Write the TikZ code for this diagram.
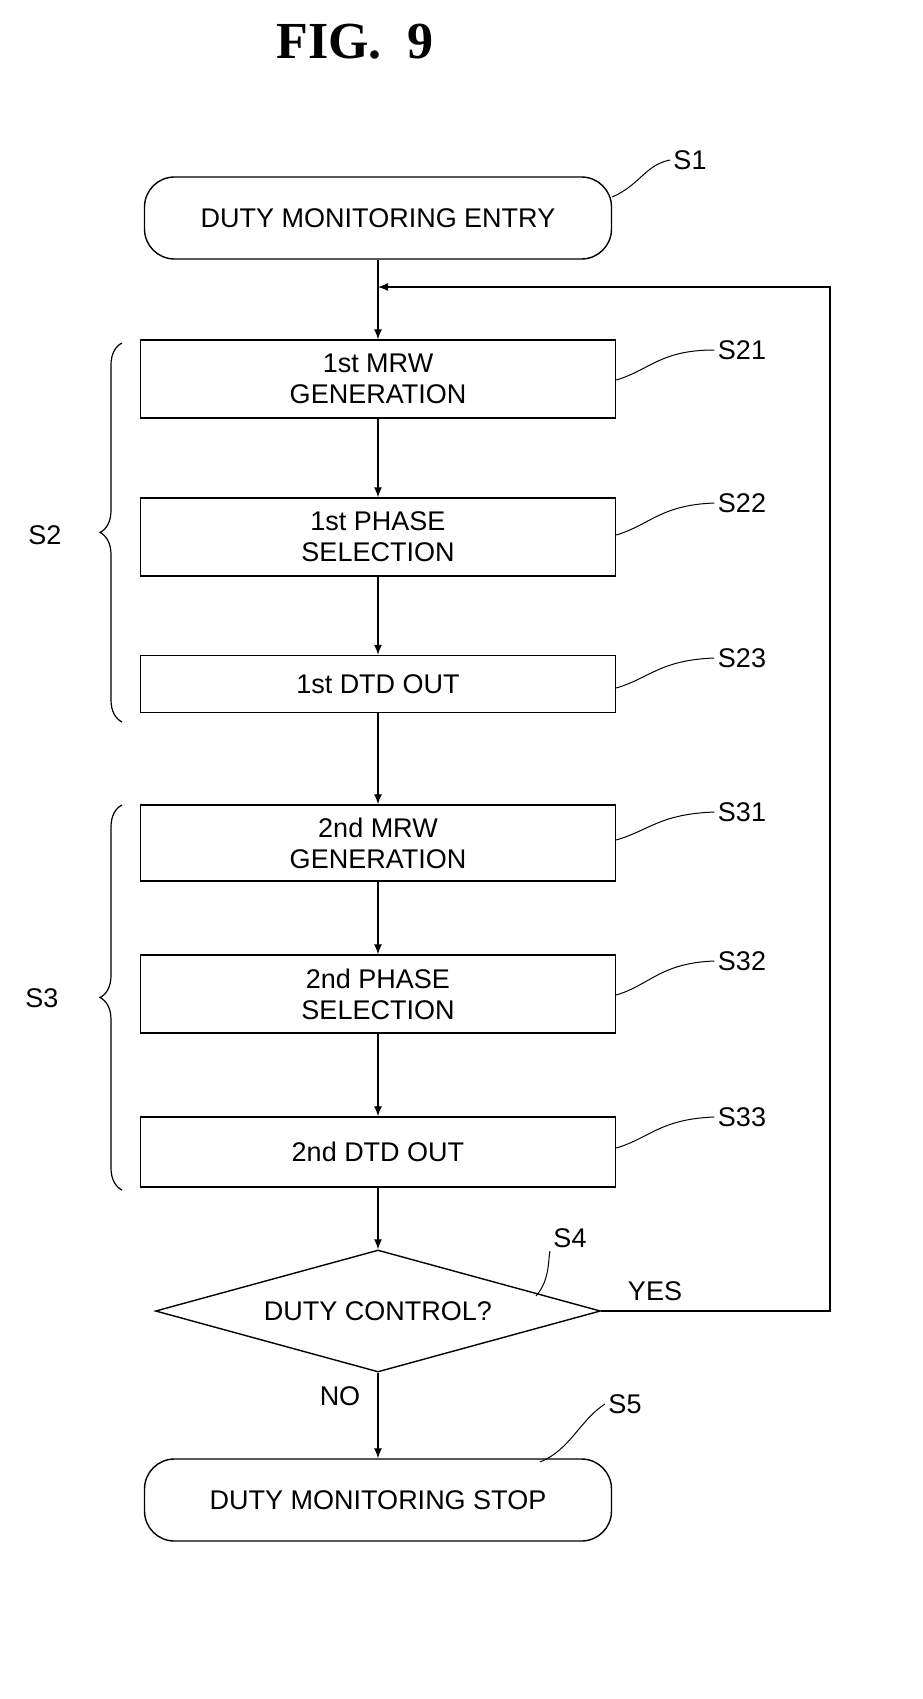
\documentclass[tikz,border=0pt]{standalone}
\usepackage{fontspec}
\setmainfont{Liberation Sans}
\newfontfamily\titlefont{Liberation Serif}
\usetikzlibrary{positioning,shapes.geometric,decorations.pathreplacing,arrows.meta}

\tikzset{
  box/.style={draw, line width=1.4pt, minimum width=475pt, align=center, font=\fontsize{27}{31}\selectfont},
  term/.style={box, rounded corners=30pt, minimum width=467pt, minimum height=82pt},
  flow/.style={line width=1.3pt, -{Latex[length=10pt,width=8pt]}},
  tag/.style={font=\fontsize{27}{31}\selectfont},
  leader/.style={line width=1pt},
  brc/.style={line width=1.2pt, decorate, decoration={brace, amplitude=22pt, mirror}}
}

\begin{document}
\begin{tikzpicture}[x=1pt, y=-1pt]
    \useasboundingbox (0,0) rectangle (922,1699);
    % Title.
    \node[font=\fontsize{52}{58}\titlefont\bfseries] (title) at (355,42) {FIG.~~9};
    % Steps.
    \node[term] (s1) at (378,218) {DUTY MONITORING ENTRY};
    \node[box, minimum height=78pt] (s21) at (378,379) {1st MRW\\GENERATION};
    \node[box, minimum height=78pt] (s22) at (378,537) {1st PHASE\\SELECTION};
    \node[box, minimum height=57pt] (s23) at (378,684) {1st DTD OUT};
    \node[box, minimum height=76pt] (s31) at (378,843) {2nd MRW\\GENERATION};
    \node[box, minimum height=78pt] (s32) at (378,994) {2nd PHASE\\SELECTION};
    \node[box, minimum height=70pt] (s33) at (378,1152) {2nd DTD OUT};
    \node[diamond, draw, line width=1.4pt, aspect=3.65, minimum width=445pt, minimum height=122pt, inner sep=0pt, font=\fontsize{27}{31}\selectfont] (s4) at (378,1311) {DUTY CONTROL?};
    \node[term] (s5) at (378,1500) {DUTY MONITORING STOP};
    % Connectors.
    \coordinate (join) at (378,287);
    \coordinate (back) at (830,287);
    \draw[line width=1.3pt] (s1) -- (join);
    \draw[flow] (join) -- (s21);
    \draw[flow] (s21) -- (s22);
    \draw[flow] (s22) -- (s23);
    \draw[flow] (s23) -- (s31);
    \draw[flow] (s31) -- (s32);
    \draw[flow] (s32) -- (s33);
    \draw[flow] (s33) -- (s4);
    \draw[flow] (s4) -- (s5);
    \draw[flow] (s4.east) -| (back) -- (join);
    \node[tag] (yes) at (655,1291) {YES};
    \node[tag] (no) at (340,1396) {NO};
    % Step labels.
    \node[tag] (l1) at (690,160) {S1};
    \node[tag] (l21) at (742,350) {S21};
    \node[tag] (l22) at (742,503) {S22};
    \node[tag] (l23) at (742,658) {S23};
    \node[tag] (l31) at (742,812) {S31};
    \node[tag] (l32) at (742,961) {S32};
    \node[tag] (l33) at (742,1117) {S33};
    \node[tag] (l4) at (570,1238) {S4};
    \node[tag] (l5) at (625,1404) {S5};
    \draw[leader] (s1.east |- 0,197) .. controls (640,185) and (645,165) .. (l1.west);
    \draw[leader] (s21.east |- 0,380) .. controls (650,370) and (660,350) .. (l21.west);
    \draw[leader] (s22.east |- 0,535) .. controls (650,525) and (660,505) .. (l22.west);
    \draw[leader] (s23.east |- 0,688) .. controls (650,678) and (660,660) .. (l23.west);
    \draw[leader] (s31.east |- 0,840) .. controls (650,830) and (660,814) .. (l31.west);
    \draw[leader] (s32.east |- 0,995) .. controls (650,985) and (660,963) .. (l32.west);
    \draw[leader] (s33.east |- 0,1148) .. controls (650,1138) and (660,1119) .. (l33.west);
    \draw[leader] (536,1296) .. controls (550,1280) and (548,1260) .. (l4.south west);
    \draw[leader] (540,1462) .. controls (570,1450) and (580,1420) .. (l5.west);
    % Braces.
    \draw[brc] (122,343) -- coordinate (b2) (122,722);
    \draw[brc] (122,805) -- coordinate (b3) (122,1190);
    \node[tag] (g2) at (45,535) {S2};
    \node[tag] (g3) at (42,998) {S3};
\end{tikzpicture}
\end{document}
